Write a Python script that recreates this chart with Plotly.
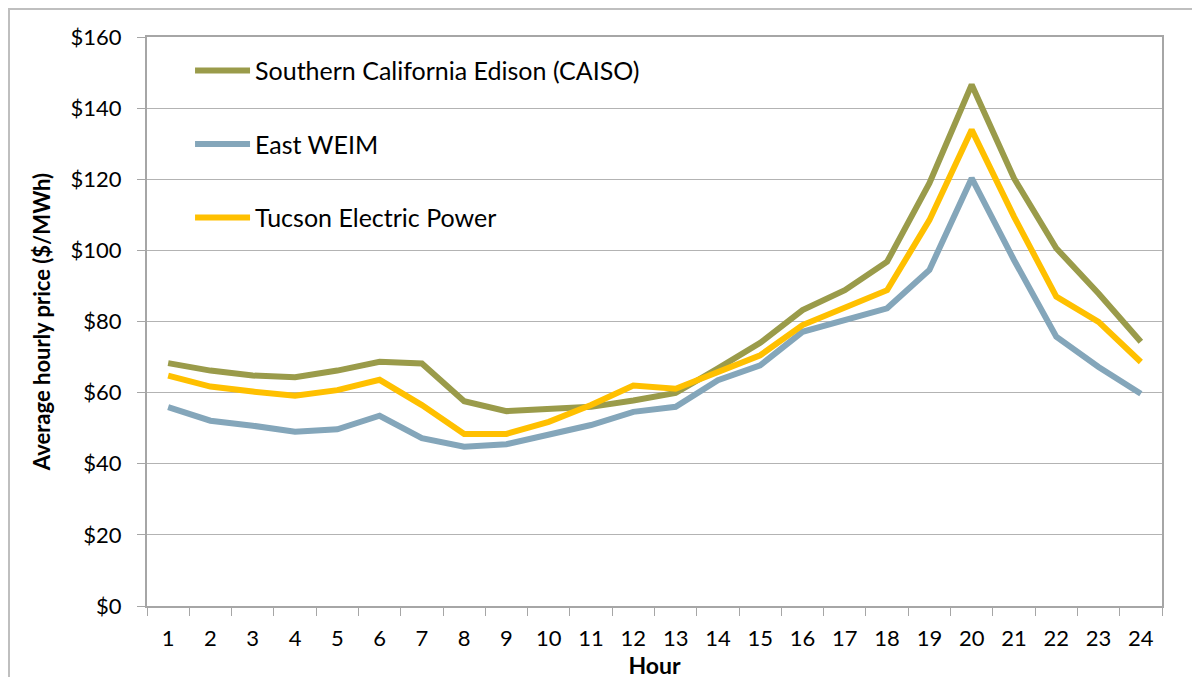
import plotly.graph_objects as go

hours = [str(h) for h in range(1, 25)]

sce = [68.3, 66.2, 64.8, 64.3, 66.2, 68.7, 68.2, 57.6, 54.8, 55.2, 56.0, 57.8,
       59.9, 66.8, 74.0, 83.2, 88.8, 96.8, 118.9, 146.6, 120.3, 100.6, 87.9, 74.3]
east = [55.9, 52.1, 50.7, 49.0, 49.7, 53.5, 47.2, 44.8, 45.5, 48.3, 50.9, 54.6,
        56.0, 63.5, 67.7, 77.1, 80.4, 83.7, 94.5, 120.3, 97.3, 75.7, 67.2, 59.7]
tep = [64.8, 61.7, 60.3, 59.1, 60.7, 63.6, 56.5, 48.4, 48.4, 51.8, 56.5, 62.0,
       61.1, 65.8, 70.5, 79.0, 83.7, 88.8, 108.5, 133.9, 109.5, 87.0, 79.9, 68.6]

series = [
    ("Southern California Edison (CAISO)", sce, "#9A9B4A"),
    ("East WEIM", east, "#84A6BA"),
    ("Tucson Electric Power", tep, "#FFC000"),
]

FONT = "Lato, Carlito, Calibri, sans-serif"

# plot area geometry (figure pixels)
L, R, T, B = 139, 46, 29, 79
PW, PH = 1200 - L - R, 677 - T - B

fig = go.Figure()
for i, (name, vals, color) in enumerate(series):
    fig.add_trace(go.Scatter(
        x=hours, y=vals, name=name, mode="lines",
        line=dict(color=color, width=6),
        legendgroup=f"g{i}",
    ))

fig.update_layout(
    width=1200, height=677,
    margin=dict(l=L, r=R, t=T, b=B),
    paper_bgcolor="white", plot_bgcolor="white",
    font=dict(family=FONT, size=22, color="#000000"),
    showlegend=True,
    legend=dict(
        x=0.0424, y=0.981, xanchor="left", yanchor="top",
        bgcolor="rgba(0,0,0,0)", itemwidth=55, tracegroupgap=38,
        font=dict(family=FONT, size=25),
        traceorder="grouped",
    ),
    xaxis=dict(
        type="category", range=[-0.5, len(hours) - 0.5],
        tickson="boundaries", ticks="outside", ticklen=8,
        tickcolor="#A6A6A6", showline=True, linecolor="#A6A6A6", linewidth=2,
        mirror=True, showgrid=False, ticklabelstandoff=12,
        title=dict(text="<b>Hour</b>", standoff=2, font=dict(size=23)),
    ),
    yaxis=dict(
        range=[0, 160], dtick=20, tickprefix="$", ticks="outside", ticklen=8,
        tickcolor="#A6A6A6", showline=True, linecolor="#A6A6A6", linewidth=2,
        mirror=True, showgrid=True, gridcolor="#B3B3B3", gridwidth=1.3,
        zeroline=False, ticklabelstandoff=11,
        title=dict(text="<b>Average hourly price ($/MWh)</b>", standoff=14,
                   font=dict(size=22)),
    ),
    shapes=[dict(
        type="rect", xref="paper", yref="paper",
        x0=(1 - L) / PW, x1=1.1, y0=-0.3, y1=1 + (T - 1) / PH,
        line=dict(color="#BFBFBF", width=2), layer="below",
    )],
)

fig.write_html("out.html")
